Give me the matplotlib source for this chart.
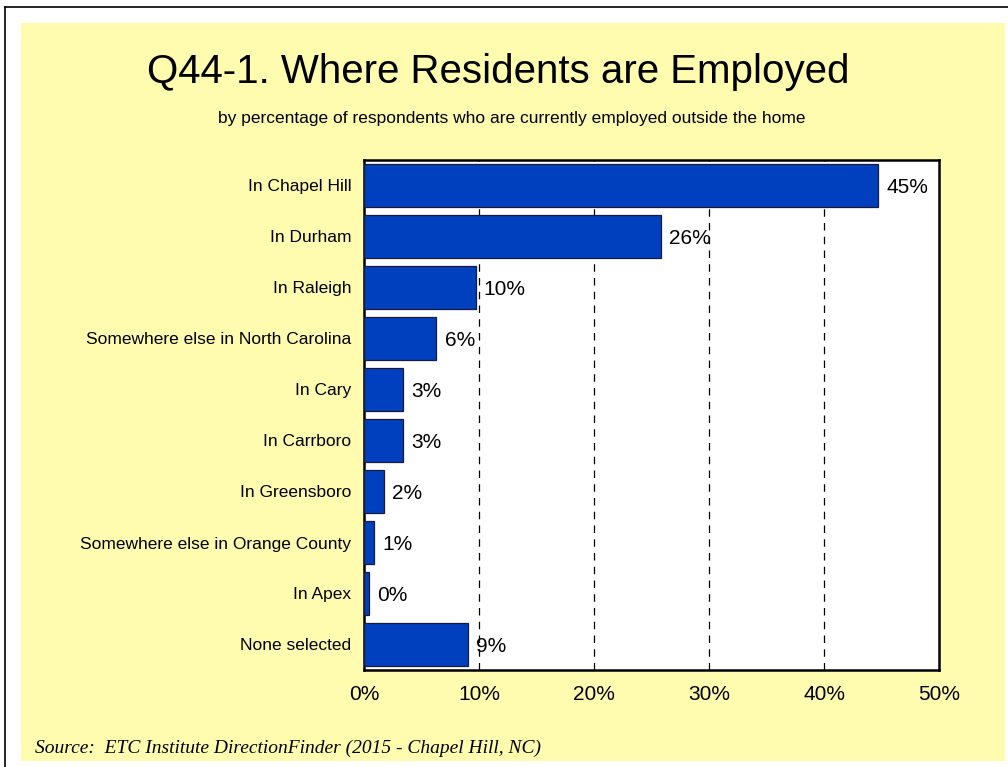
import matplotlib.pyplot as plt
from matplotlib.patches import Rectangle
from matplotlib.lines import Line2D
import numpy as np

# Chart data
categories = ["In Chapel Hill", "In Durham", "In Raleigh",
              "Somewhere else in North Carolina", "In Cary", "In Carrboro",
              "In Greensboro", "Somewhere else in Orange County", "In Apex",
              "None selected"]
values = [44.7, 25.8, 9.7, 6.3, 3.4, 3.4, 1.7, 0.9, 0.4, 9.0]
value_labels = ["45%", "26%", "10%", "6%", "3%", "3%", "2%", "1%", "0%", "9%"]
x_ticks = [0, 10, 20, 30, 40, 50]
x_tick_labels = ["0%", "10%", "20%", "30%", "40%", "50%"]

TITLE = "Q44-1. Where Residents are Employed"
SUBTITLE = "by percentage of respondents who are currently employed outside the home"
SOURCE = "Source:  ETC Institute DirectionFinder (2015 - Chapel Hill, NC)"

plt.rcParams['font.family'] = ['Liberation Sans', 'DejaVu Sans']

W, H = 1008, 767
fig = plt.figure(figsize=(W / 100, H / 100), dpi=100)
fig.patch.set_facecolor('white')

# Yellow panel and outer frame
fig.add_artist(Rectangle((21 / W, 1 - 761 / H), 984 / W, 738 / H,
                         transform=fig.transFigure, facecolor='#FFFCAF',
                         edgecolor='none', zorder=0))
fig.add_artist(Line2D([5 / W, 5 / W], [0, 1 - 7 / H], transform=fig.transFigure,
                      color='black', lw=1.2))
fig.add_artist(Line2D([5 / W, 1], [1 - 7 / H, 1 - 7 / H], transform=fig.transFigure,
                      color='black', lw=1.2))

ax = fig.add_axes([364 / W, 1 - 670 / H, 575 / W, 510 / H])
ax.set_facecolor('white')

y = np.arange(len(categories))
ax.barh(y, values, height=0.84, color='#0040BF', edgecolor='#1a1a3a',
        linewidth=0.9, zorder=3)

for yi, v, lab in zip(y, values, value_labels):
    ax.text(v + 0.7, yi + 0.04, lab, va='center', ha='left', fontsize=15, zorder=4)

ax.set_xlim(0, 50)
ax.set_ylim(len(categories) - 0.5, -0.5)
ax.set_xticks(x_ticks)
ax.set_xticklabels(x_tick_labels, fontsize=15)
ax.set_yticks(y)
ax.set_yticklabels(categories, fontsize=12.5)
ax.tick_params(axis='x', length=0, pad=11)
ax.tick_params(axis='y', length=0, pad=9)

for gx in x_ticks[1:-1]:
    ax.axvline(gx, color='black', lw=0.9, ls=(0, (6, 5)), zorder=1)

for s in ax.spines.values():
    s.set_linewidth(1.8)
    s.set_color('black')

fig.text(498 / W, 1 - 72 / H, TITLE, ha='center', va='center', fontsize=29)
fig.text(512 / W, 1 - 118 / H, SUBTITLE, ha='center', va='center', fontsize=12.5)
fig.text(35 / W, 1 - 748 / H, SOURCE, ha='left', va='center', fontsize=14,
         family='Liberation Serif', style='italic')

fig.savefig('out.png', dpi=100)
